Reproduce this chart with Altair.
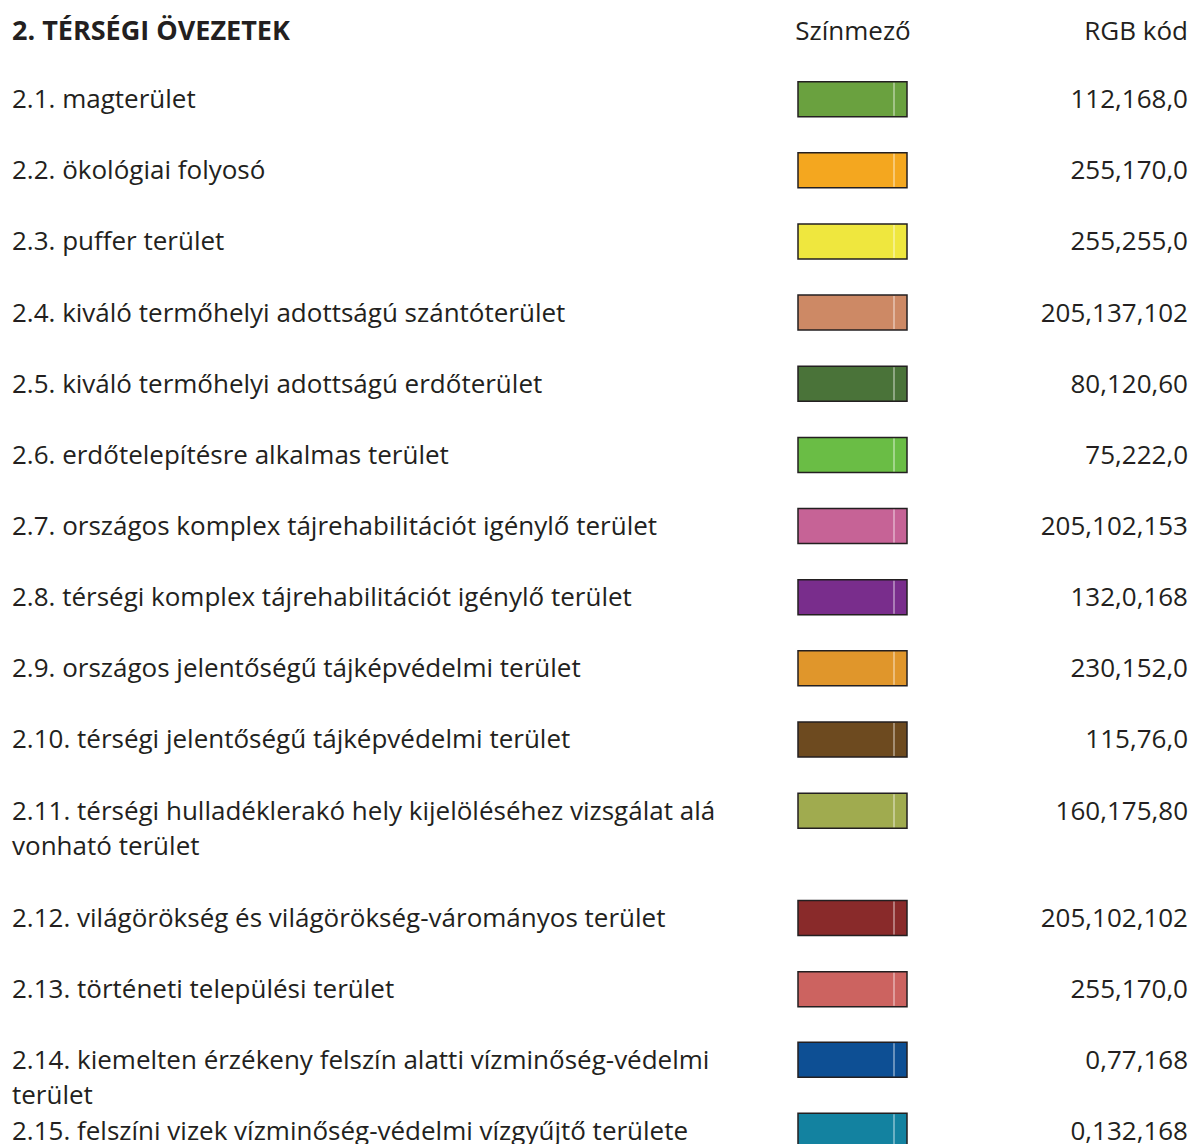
import altair as alt
import pandas as pd

# ---- data ----
labels = [
    "2.1. magterület",
    "2.2. ökológiai folyosó",
    "2.3. puffer terület",
    "2.4. kiváló termőhelyi adottságú szántóterület",
    "2.5. kiváló termőhelyi adottságú erdőterület",
    "2.6. erdőtelepítésre alkalmas terület",
    "2.7. országos komplex tájrehabilitációt igénylő terület",
    "2.8. térségi komplex tájrehabilitációt igénylő terület",
    "2.9. országos jelentőségű tájképvédelmi terület",
    "2.10. térségi jelentőségű tájképvédelmi terület",
    "2.11. térségi hulladéklerakó hely kijelöléséhez vizsgálat alá\nvonható terület",
    "2.12. világörökség és világörökség-várományos terület",
    "2.13. történeti települési terület",
    "2.14. kiemelten érzékeny felszín alatti vízminőség-védelmi\nterület",
    "2.15. felszíni vizek vízminőség-védelmi vízgyűjtő területe",
]
rgb_codes = [
    "112,168,0", "255,170,0", "255,255,0", "205,137,102", "80,120,60",
    "75,222,0", "205,102,153", "132,0,168", "230,152,0", "115,76,0",
    "160,175,80", "205,102,102", "255,170,0", "0,77,168", "0,132,168",
]
swatch_colors = [
    "#6aa13f", "#f4a71f", "#efe73e", "#cd8965", "#4a7339",
    "#6abd45", "#c66396", "#792d8c", "#e0962b", "#6d4a1f",
    "#a0ab4f", "#892a2a", "#cc6360", "#0d4f94", "#1382a0",
]
row_order = [1, 2, 3, 4, 5, 6, 7, 8, 9, 10, 11, 12.51, 13.51, 14.5, 15.5]

title = "2. TÉRSÉGI ÖVEZETEK"
col_headers = ["Színmező", "RGB kód"]

df = pd.DataFrame({
    "label": labels,
    "rgb": rgb_codes,
    "color": swatch_colors,
    "row": row_order,
})
head = pd.DataFrame({"row": [0.04], "title": [title],
                     "h1": [col_headers[0]], "h2": [col_headers[1]]})

TXT = "#231f20"
FONT = "Open Sans"
FS = 26

yscale = alt.Scale(domain=[0, 15.5], range=[20.0, 1122.8])
Y = alt.Y("row:Q", scale=yscale, axis=None)

base = alt.Chart(df)

label_txt = base.mark_text(
    align="left", baseline="alphabetic", dy=9, font=FONT, fontSize=FS,
    color=TXT, lineBreak="\n", lineHeight=35,
).encode(x=alt.value(4), y=Y, text="label:N")

rgb_txt = base.mark_text(
    align="right", baseline="alphabetic", dy=9, font=FONT, fontSize=FS,
    color=TXT,
).encode(x=alt.value(1180), y=Y, text="rgb:N")

swatch = base.mark_rect(
    yOffset=-17.5, y2Offset=17.5, stroke=TXT, strokeWidth=1.5, clip=True,
).encode(
    x=alt.value(790), x2=alt.value(899), y=Y, y2="row:Q",
    fill=alt.Fill("color:N", scale=None),
)

sheen = base.mark_rule(
    yOffset=-16.5, y2Offset=16.5, color="white", opacity=0.5, strokeWidth=1.5,
    clip=True,
).encode(x=alt.value(886), y=Y, y2="row:Q")

hbase = alt.Chart(head)
title_txt = hbase.mark_text(
    align="left", baseline="alphabetic", dy=9, font=FONT, fontSize=27,
    fontWeight="bold", color=TXT,
).encode(x=alt.value(4), y=Y, text="title:N")
h1_txt = hbase.mark_text(
    align="center", baseline="alphabetic", dy=9, font=FONT, fontSize=FS,
    color=TXT,
).encode(x=alt.value(845), y=Y, text="h1:N")
h2_txt = hbase.mark_text(
    align="right", baseline="alphabetic", dy=9, font=FONT, fontSize=FS,
    color=TXT,
).encode(x=alt.value(1180), y=Y, text="h2:N")

chart = alt.layer(
    swatch, sheen, label_txt, rgb_txt, title_txt, h1_txt, h2_txt
).properties(
    width=1180, height=1136, padding=0, autosize=alt.AutoSizeParams(type="none"),
).configure_view(stroke=None)

chart.save("out.html", embed_options={"renderer": "svg", "actions": False})
